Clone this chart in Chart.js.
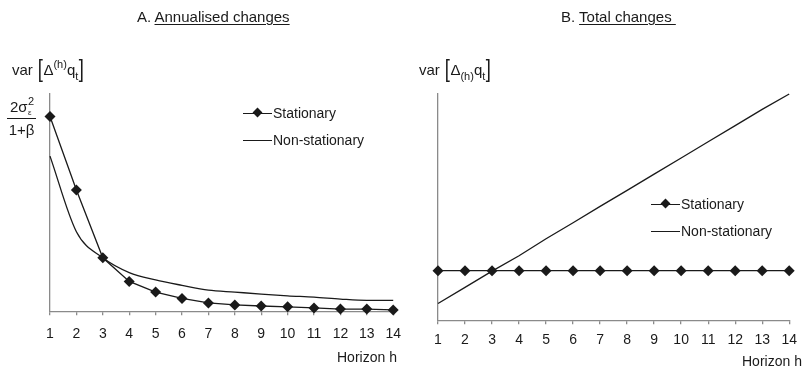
<!DOCTYPE html>
<html>
<head>
<meta charset="utf-8">
<script src="https://cdn.jsdelivr.net/npm/chart.js@4.4.1/dist/chart.umd.min.js"></script>
<style>
  body { margin: 0; width: 804px; height: 370px; position: relative; overflow: hidden; background: #fff;
         font-family: "Liberation Sans", Arial, sans-serif; color: #1a1a1a; }
  canvas { position: absolute; top: 0; }
  .txt { position: absolute; white-space: nowrap; font-size: 14px; line-height: 1; }
  .title { font-size: 15px; }
  .title u { text-decoration-thickness: 1px; text-underline-offset: 2px; }
  .ylab { font-size: 15px; }
  .ylab .br { font-size: 23px; font-weight: 300; vertical-align: -2px; transform: scaleX(0.8); display: inline-block; }
  .ylab sup { font-size: 11px; vertical-align: 7px; }
  .ylab sub { font-size: 11px; vertical-align: -5px; }
  .frac { position: absolute; left: 7px; top: 98px; width: 29px; font-size: 15px; }
  .frac .num { position: relative; height: 20px; border-bottom: 1px solid #1a1a1a; padding-left: 3px; }
  .frac .den { padding-top: 2px; text-align: center; }
  .leg { position: absolute; font-size: 14px; height: 16px; line-height: 16px; white-space: nowrap; }
  .leg .ln { position: absolute; left: 0; top: 8px; width: 29px; border-top: 1.3px solid #1a1a1a; }
  .leg .dm { position: absolute; left: 11px; top: 4px; width: 7px; height: 7px; background: #1a1a1a; transform: rotate(45deg); }
  .leg .lb { position: absolute; left: 30px; top: 0; }
</style>
</head>
<body>
<canvas id="chartA" width="412" height="370" style="left:0"></canvas>
<canvas id="chartB" width="403" height="370" style="left:402px"></canvas>

<div class="txt title" style="left:137px;top:9px">A. <u>Annualised changes</u></div>
<div class="txt title" style="left:561px;top:9px">B. <u>Total changes&nbsp;</u></div>

<div class="txt ylab" style="left:12px;top:58px">var <span class="br">[</span>Δ<sup>(h)</sup>q<sub>t</sub><span class="br">]</span></div>
<div class="txt ylab" style="left:419px;top:58px">var <span class="br">[</span>Δ<sub>(h)</sub>q<sub>t</sub><span class="br">]</span></div>

<div class="frac">
  <div class="num">2σ<span style="position:absolute;left:21px;top:-3px;font-size:11px">2</span><span style="position:absolute;left:21px;top:10px;font-size:8px">ε</span></div>
  <div class="den">1+β</div>
</div>

<div class="txt" style="left:337px;top:350px">Horizon h</div>
<div class="txt" style="left:742px;top:354px">Horizon h</div>

<div id="legendA"></div>
<div id="legendB"></div>

<script>
// horizon h on the x axis
const horizons = ['1', '2', '3', '4', '5', '6', '7', '8', '9', '10', '11', '12', '13', '14'];
const seriesNames = ['Stationary', 'Non-stationary'];

// A. annualised changes (relative units, 0 = axis, 100 = top of axis)
const annualStationary = [89.6, 55.8, 24.6, 13.7, 8.8, 5.9, 3.8, 2.9, 2.4, 2.0, 1.5, 1.0, 1.0, 0.6];
const annualNonStationary = [71.4, 36.6, 24.6, 17.8, 14.4, 11.9, 9.7, 8.8, 7.9, 7.1, 6.5, 5.6, 5.0, 5.0];

// B. total changes
const totalStationary = [21.9, 21.9, 21.9, 21.9, 21.9, 21.9, 21.9, 21.9, 21.9, 21.9, 21.9, 21.9, 21.9, 21.9];
const totalNonStationary = [7.4, 14.5, 21.7, 28.5, 36.0, 43.1, 50.3, 57.4, 64.6, 71.7, 78.9, 86.0, 93.2, 100];

const ink = '#1a1a1a';
const axisGray = '#8a8a8a';
const family = '"Liberation Sans", Arial, sans-serif';

function makeChart(id, stat, nonStat, pad, tickPad, smooth) {
    return new Chart(document.getElementById(id), {
        type: 'line',
        data: {
            labels: horizons,
            datasets: [
                { label: seriesNames[0], data: stat, borderColor: ink, backgroundColor: ink, borderWidth: 1.3,
                  pointStyle: 'rectRot', pointRadius: 5.5, pointBorderWidth: 0, tension: 0, clip: false },
                { label: seriesNames[1], data: nonStat, borderColor: ink, borderWidth: 1.3, pointRadius: 0,
                  cubicInterpolationMode: smooth ? 'monotone' : 'default', tension: 0, clip: false }
            ]
        },
        options: {
            responsive: false,
            animation: false,
            events: [],
            layout: { padding: pad },
            plugins: { legend: { display: false }, tooltip: { enabled: false } },
            scales: {
                x: {
                    grid: { display: true, drawOnChartArea: false, tickLength: 4, color: axisGray, lineWidth: 1.3 },
                    border: { color: axisGray, width: 1.3 },
                    ticks: { color: ink, font: { size: 14, family: family }, padding: tickPad, maxRotation: 0, autoSkip: false }
                },
                y: {
                    min: 0, max: 100,
                    grid: { display: false, drawTicks: false },
                    border: { color: axisGray, width: 1.3 },
                    ticks: { display: false }
                }
            }
        }
    });
}

function makeLegend(id, left, top) {
    const box = document.getElementById(id);
    seriesNames.forEach((name, i) => {
        const row = document.createElement('div');
        row.className = 'leg';
        row.style.left = left + 'px';
        row.style.top = (top + i * 27) + 'px';
        row.innerHTML = '<div class="ln"></div>' + (i == 0 ? '<div class="dm"></div>' : '') + '<div class="lb">' + name + '</div>';
        box.appendChild(row);
    });
}

// the x scale keeps (half last label + tick padding) free on the right, so canvas widths set the right edge
makeChart('chartA', annualStationary, annualNonStationary, { left: 50, top: 94, right: 0, bottom: 16 }, 11, true);
makeChart('chartB', totalStationary, totalNonStationary, { left: 36, top: 94, right: 0, bottom: 13 }, 8, false);

makeLegend('legendA', 243, 105);
makeLegend('legendB', 651, 196);
</script>
</body>
</html>
